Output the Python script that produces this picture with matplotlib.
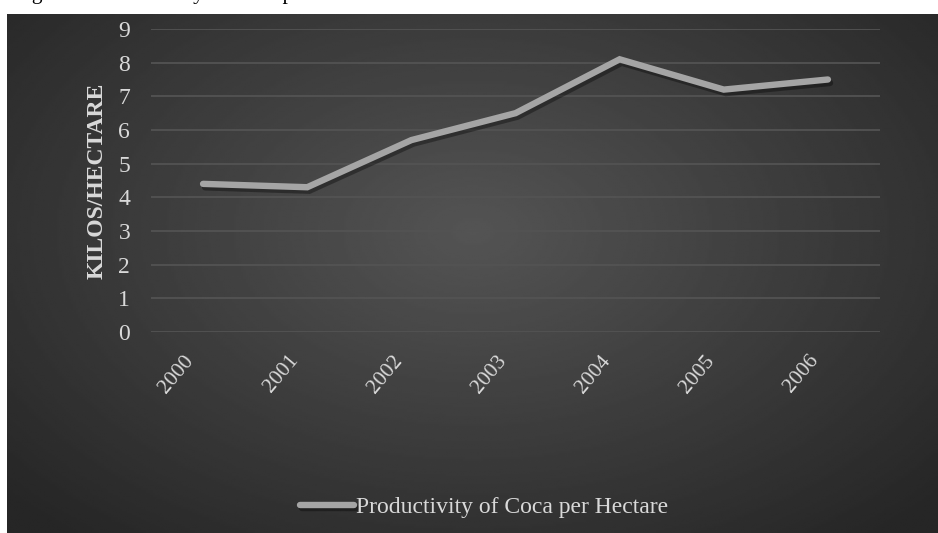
import matplotlib.pyplot as plt
import matplotlib.patheffects as pe
import matplotlib.transforms as mtransforms
import numpy as np

years = ['2000', '2001', '2002', '2003', '2004', '2005', '2006']
productivity = [4.4, 4.3, 5.7, 6.5, 8.1, 7.2, 7.5]

W, H = 938, 533
fig = plt.figure(figsize=(W / 100, H / 100), dpi=100)
fig.patch.set_facecolor('white')

# dark panel with a soft radial gradient
px0, py0 = 7, 14
bg = fig.add_axes([px0 / W, 0, 1 - px0 / W, 1 - py0 / H], zorder=0)
gx, gy = np.meshgrid(np.linspace(0, 1, 400), np.linspace(0, 1, 250))
r = np.sqrt(((gx - 0.50) / 0.75) ** 2 + ((gy - 0.58) / 0.85) ** 2)
shade = np.clip(0.33 - 0.20 * r, 0.15, 0.33)
bg.imshow(shade, cmap='gray', vmin=0, vmax=1, extent=[0, 1, 0, 1],
          aspect='auto', interpolation='bilinear', origin='lower')
bg.axis('off')

fig.text(14 / W, 1 + 1 / H, 'Figure 6: Productivity of Coca per Hectare',
         family='Liberation Serif', fontsize=15.5, color='black',
         ha='left', va='baseline')

ax = fig.add_axes([151 / W, (H - 332) / H, (880 - 151) / W, (332 - 29) / H], zorder=1)
ax.patch.set_alpha(0)
x = np.arange(len(years))
ax.plot(x, productivity, color='#a5a5a5', lw=4.6, solid_capstyle='round',
        solid_joinstyle='miter',
        path_effects=[pe.SimpleLineShadow(offset=(1.5, -2.5), shadow_color='black', alpha=0.35),
                      pe.Normal()],
        label='Productivity of Coca per Hectare', zorder=3)

ax.set_xlim(-0.5, len(years) - 0.5)
ax.set_ylim(0, 9)
ax.set_yticks(range(0, 10))
ax.grid(axis='y', color='#535353', lw=1.3)
ax.set_axisbelow(True)
for s in ax.spines.values():
    s.set_visible(False)
ax.tick_params(length=0, colors='#d9d9d9')
ax.tick_params(axis='y', pad=15, labelsize=17)
ax.tick_params(axis='x', pad=14, labelsize=15.5)
ax.set_xticks(x)
ax.set_xticklabels(years, rotation=50, ha='right', va='top',
                   family='Liberation Serif')
shift = mtransforms.ScaledTranslation(-5 / 100, 0, fig.dpi_scale_trans)
for lbl in ax.get_xticklabels():
    lbl.set_transform(lbl.get_transform() + shift)
for lbl in ax.get_yticklabels():
    lbl.set_family('Liberation Serif')
ax.set_ylabel('KILOS/HECTARE', family='Liberation Serif', fontsize=17,
              fontweight='bold', color='#d9d9d9', labelpad=8)

leg = ax.legend(loc='center', bbox_to_anchor=(484 / W, (H - 507) / H),
                bbox_transform=fig.transFigure, frameon=False,
                prop={'family': 'Liberation Serif', 'size': 17},
                handlelength=2.3, handletextpad=0.1)
for t in leg.get_texts():
    t.set_color('#d9d9d9')

fig.savefig('out.png', dpi=100, facecolor=fig.get_facecolor())
